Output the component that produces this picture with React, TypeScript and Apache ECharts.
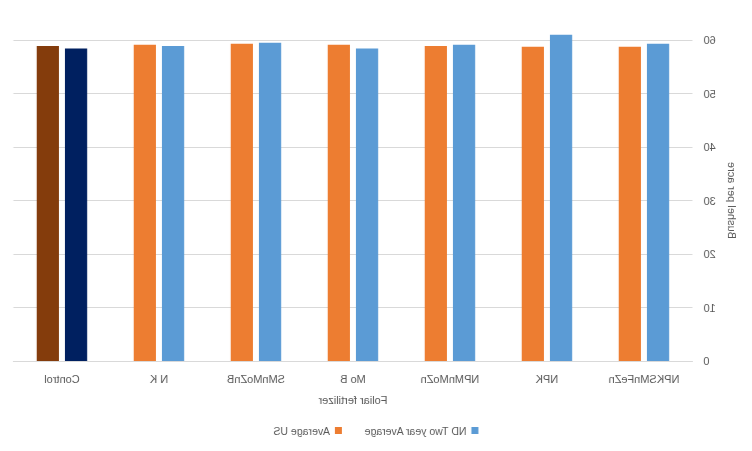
import React, { useEffect, useRef } from "react";
import * as echarts from "echarts";

const categories = ["NPKSMnFeZn", "NPK", "NPMnMoZn", "Mo B", "SMnMoZnB", "N K", "Control"];
const ndTwoYear = [59.3, 61.0, 59.1, 58.4, 59.5, 58.9, 58.4];
const averageUS = [58.75, 58.75, 58.9, 59.1, 59.3, 59.1, 58.9];
const yTicks = { min: 0, max: 60, interval: 10 };
const seriesNames = ["ND Two year Average", "Average US"];

const FONT = "'Liberation Sans', Arial, sans-serif";
const TEXT = "#595959";

export default function App() {
  const ref = useRef<HTMLDivElement>(null);
  useEffect(() => {
    if (!ref.current) return;
    const chart = echarts.init(ref.current, undefined, { renderer: "svg" });
    const last = categories.length - 1;
    chart.setOption({
      animation: false,
      textStyle: { fontFamily: FONT },
      grid: { left: 59.5, right: 13.5, top: 40, bottom: 90, containLabel: false },
      legend: {
        bottom: 10,
        left: "center",
        itemWidth: 7,
        itemHeight: 7,
        itemGap: 22,
        icon: "rect",
        textStyle: { color: TEXT, fontSize: 10.5, fontFamily: FONT },
        data: seriesNames,
      },
      xAxis: {
        type: "category",
        data: categories,
        name: "Foliar fertilizer",
        nameLocation: "middle",
        nameGap: 33,
        nameTextStyle: { color: TEXT, fontSize: 11, fontFamily: FONT },
        axisLine: { lineStyle: { color: "#D9D9D9" } },
        axisTick: { show: false },
        axisLabel: { color: TEXT, fontSize: 11, margin: 12, interval: 0, fontFamily: FONT },
      },
      yAxis: {
        type: "value",
        min: yTicks.min,
        max: yTicks.max,
        interval: yTicks.interval,
        name: "Bushel per acre",
        nameLocation: "middle",
        nameGap: 27,
        nameTextStyle: { color: TEXT, fontSize: 11, fontFamily: FONT },
        axisLine: { show: false },
        axisTick: { show: false },
        axisLabel: { color: TEXT, fontSize: 11, margin: 11, fontFamily: FONT },
        splitLine: { lineStyle: { color: "#D9D9D9" } },
      },
      series: [
        {
          name: seriesNames[0],
          type: "bar",
          clip: false,
          barGap: "27%",
          barCategoryGap: "48%",
          itemStyle: { color: "#5B9BD5" },
          data: ndTwoYear.map((v, i) =>
            i === last ? { value: v, itemStyle: { color: "#002060" } } : v
          ),
        },
        {
          name: seriesNames[1],
          type: "bar",
          clip: false,
          barGap: "27%",
          barCategoryGap: "48%",
          itemStyle: { color: "#ED7D31" },
          data: averageUS.map((v, i) =>
            i === last ? { value: v, itemStyle: { color: "#843C0C" } } : v
          ),
        },
      ],
    });
    return () => chart.dispose();
  }, []);
  return (
    <div
      ref={ref}
      style={{
        position: "fixed",
        left: 0,
        top: 0,
        width: 752,
        height: 451,
        background: "#fff",
        transform: "scaleX(-1)",
      }}
    />
  );
}
